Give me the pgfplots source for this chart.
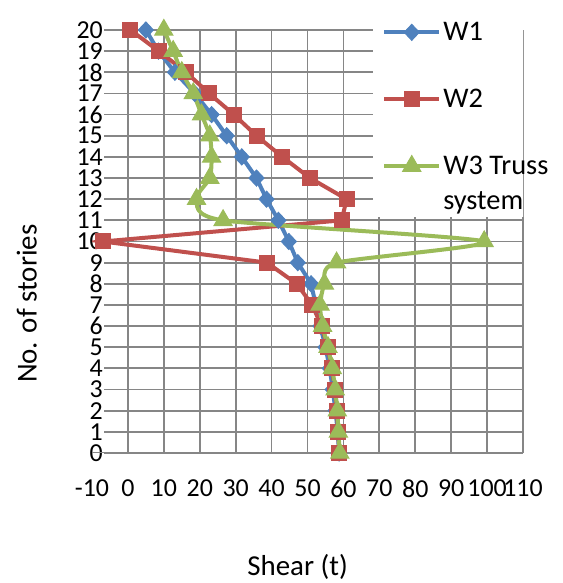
\documentclass[border=0pt]{standalone}
\usepackage{fontspec}
\setmainfont{Carlito}
\usepackage{pgfplots}
\pgfplotsset{compat=1.18}
\definecolor{cWone}{HTML}{4F81BD}
\definecolor{cWtwo}{HTML}{C0504D}
\definecolor{cWthree}{HTML}{9BBB59}
\definecolor{gridgray}{HTML}{868686}
\begin{document}
\begin{tikzpicture}
\begin{axis}[
  at={(92bp,130bp)}, anchor=south west,
  scale only axis, width=431bp, height=423bp,
  xmin=-10, xmax=110, ymin=0, ymax=20,
  xtick={0,10,...,110}, ytick={0,1,...,20},
  extra x ticks={-10}, extra x tick style={grid=none},
  set layers,
  axis line style={draw=none},
  major tick length=0pt,
  grid=major,
  major grid style={gridgray, line width=1.8bp},
  /pgf/number format/assume math mode=true,
  tick label style={font=\fontsize{26}{30}\selectfont},
  xticklabel style={yshift=-23bp},
  yticklabel style={anchor=east, xshift=12bp, inner sep=1bp, fill=white},
  xlabel={Shear (t)}, ylabel={No. of stories},
  every axis x label/.style={at={(axis description cs:0.477,-0.27)}, anchor=center, font=\fontsize{29}{34}\selectfont},
  every axis y label/.style={at={(axis description cs:-0.151,0.353)}, rotate=90, anchor=center, font=\fontsize{29}{34}\selectfont},
  legend style={at={(axis description cs:0.673,1.023)}, anchor=north west, draw=none, fill=none,
    font=\fontsize{28.5}{33}\selectfont, row sep=43bp, inner sep=0pt,
    nodes={font=\fontsize{28.5}{33}\selectfont}},
  legend cell align=left,
  legend image code/.code={\draw[mark repeat=2,mark phase=2] plot coordinates {(0cm,0cm) (0.97cm,0cm) (1.94cm,0cm)};},
]
\fill[white] (axis description cs:0.652,1.06) rectangle (axis description cs:1.1,0.558);
\draw[gridgray, line width=2.6bp] (axis cs:0,0) -- (axis cs:0,20);
\draw[gridgray, line width=2bp] (axis cs:-10,0) -- (axis cs:110,0);
\pgfplotsinvokeforeach{0,10,20,30,40,50,60,70,80,90,100,110}{\draw[gridgray, line width=1.8bp] (axis cs:#1,0) -- ++(0,-6bp);}
\pgfplotsinvokeforeach{1,2,3,4,5,6,7,8,9,10,11,12,13,14,15,16,17,18,19,20}{\draw[gridgray, line width=1.8bp] (axis cs:0,#1) -- ++(-6bp,0);}

\addplot[cWone, line width=4bp, mark=diamond*, mark size=8bp, mark options={solid, line width=1bp, xscale=1.25}] coordinates {
(58.8,0) (58.4,1) (57.8,2) (57.0,3) (56.2,4) (55.0,5) (53.6,6) (52.3,7) (51.0,8) (47.3,9) (44.8,10)
(41.9,11) (38.6,12) (35.8,13) (31.7,14) (27.5,15) (23.3,16) (18.6,17) (13.1,18) (8.5,19) (5.0,20)};
\addlegendentry{W1}
\addplot[cWtwo, line width=4bp, mark=square*, mark size=7.5bp, mark options={solid, line width=1bp}] coordinates {
(58.9,0) (58.5,1) (58.2,2) (57.6,3) (56.8,4) (55.6,5) (53.9,6) (51.3,7) (47.0,8) (38.7,9) (-7.0,10)
(59.5,11) (60.9,12) (50.7,13) (43.0,14) (35.8,15) (29.5,16) (22.6,17) (16.2,18) (8.6,19) (0.7,20)};
\addlegendentry{W2}
\addplot[cWthree, line width=4bp, smooth, tension=0.4, mark=triangle*, mark size=10.5bp, mark options={solid, line width=1bp}] coordinates {
(59.0,0) (58.6,1) (58.3,2) (57.7,3) (56.9,4) (55.7,5) (54.2,6) (53.5,7) (54.7,8) (58.1,9) (99.2,10)
(26.5,11) (19.1,12) (22.8,13) (23.3,14) (22.8,15) (20.5,16) (18.2,17) (15.0,18) (12.6,19) (10.0,20)};
\addlegendentry{\rlap{\raisebox{-35bp}[0pt][0pt]{system}}W3 Truss}
\end{axis}
\pgfresetboundingbox
\useasboundingbox (0,0) rectangle (563bp,583bp);
\end{tikzpicture}
\end{document}
